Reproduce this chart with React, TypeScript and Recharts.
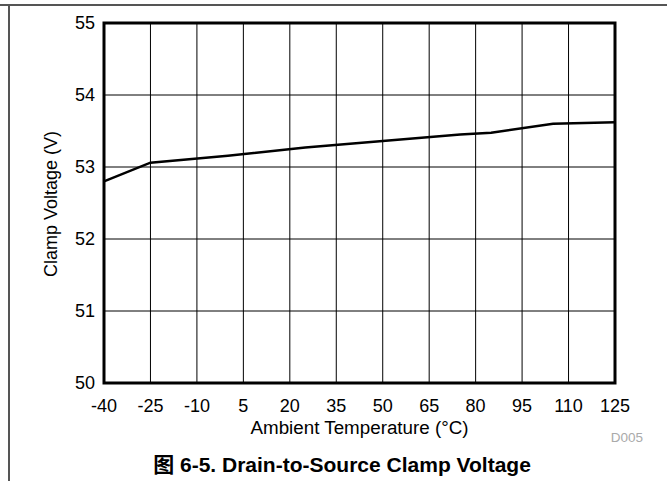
import React from "react";
import { LineChart, Line, XAxis, YAxis, CartesianGrid, ReferenceArea } from "recharts";

const temperatures = [-40, -25, 0, 25, 50, 75, 85, 105, 125];
const clampVoltage = [52.8, 53.06, 53.155, 53.27, 53.36, 53.45, 53.475, 53.6, 53.62];
const xTicks = [-40, -25, -10, 5, 20, 35, 50, 65, 80, 95, 110, 125];
const yTicks = [50, 51, 52, 53, 54, 55];

const data = temperatures.map((t, i) => ({ t, v: clampVoltage[i] }));

const FONT = "'Liberation Sans', Arial, 'Noto Sans CJK SC', sans-serif";

export default function App() {
  return (
    <div style={{ position: "absolute", left: 0, top: 0, width: 667, height: 481, background: "#fff", fontFamily: FONT, overflow: "hidden" }}>
      <div style={{ position: "absolute", left: 0, top: 4, width: 667, height: 1.5, background: "#555" }} />
      <div style={{ position: "absolute", left: 8, top: 4, width: 1.5, height: 477, background: "#555" }} />
      <LineChart
        width={667}
        height={481}
        data={data}
        margin={{ top: 23, right: 52, bottom: 58, left: 0 }}
        style={{ position: "absolute", left: 0, top: 0 }}
      >
        <CartesianGrid stroke="#000" strokeWidth={1} verticalValues={xTicks} horizontalValues={yTicks} />
        <XAxis
          dataKey="t"
          type="number"
          domain={[-40, 125]}
          ticks={xTicks}
          interval={0}
          height={40}
          axisLine={false}
          tickLine={false}
          tickSize={0}
          tickMargin={16}
          tick={{ fill: "#000", fontSize: 18, fontFamily: FONT }}
        />
        <YAxis
          type="number"
          domain={[50, 55]}
          ticks={yTicks}
          interval={0}
          width={104}
          axisLine={false}
          tickLine={false}
          tickSize={0}
          tickMargin={9}
          tick={{ fill: "#000", fontSize: 18, fontFamily: FONT }}
        />
        <ReferenceArea x1={-40} x2={125} y1={50} y2={55} fill="none" stroke="#000" strokeWidth={3} />
        <Line
          type="linear"
          dataKey="v"
          stroke="#000"
          strokeWidth={2.5}
          dot={false}
          isAnimationActive={false}
        />
      </LineChart>
      <div style={{ position: "absolute", left: 359.5, top: 428, transform: "translate(-50%, -50%)", fontSize: 18.8, whiteSpace: "nowrap", color: "#000" }}>
        Ambient Temperature (°C)
      </div>
      <div style={{ position: "absolute", left: 51, top: 204, transform: "translate(-50%, -50%) rotate(-90deg)", fontSize: 18, whiteSpace: "nowrap", color: "#000" }}>
        Clamp Voltage (V)
      </div>
      <div style={{ position: "absolute", left: 627, top: 437, transform: "translate(-50%, -50%)", fontSize: 13.5, whiteSpace: "nowrap", color: "#aaa" }}>
        D005
      </div>
      <div style={{ position: "absolute", left: 342, top: 463, transform: "translate(-50%, -50%)", fontSize: 21, fontWeight: "bold", whiteSpace: "nowrap", color: "#000" }}>
        图 6-5. Drain-to-Source Clamp Voltage
      </div>
    </div>
  );
}
